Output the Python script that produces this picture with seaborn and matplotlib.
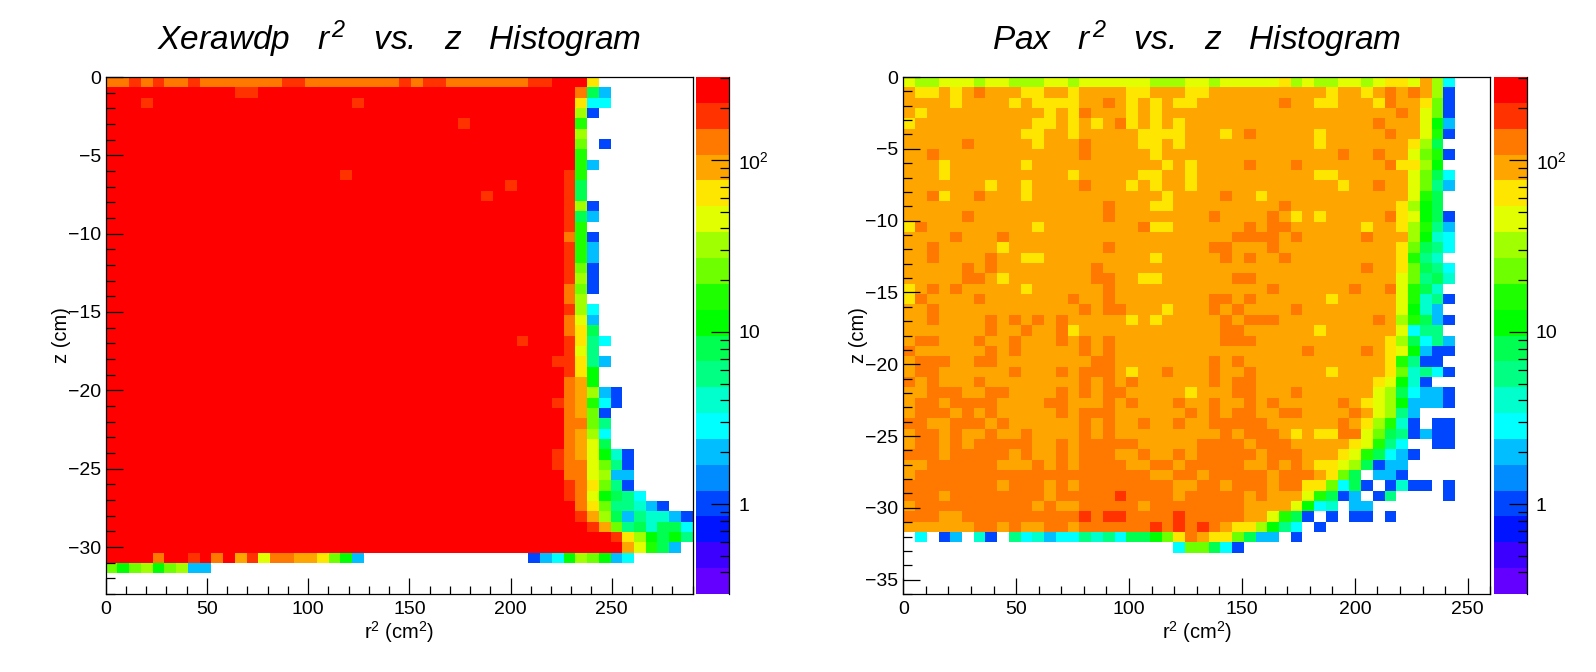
import numpy as np
import pandas as pd
import matplotlib
matplotlib.use("Agg")
import matplotlib.pyplot as plt
from matplotlib.colors import ListedColormap, LogNorm
from matplotlib.ticker import FixedLocator, FixedFormatter, NullFormatter
import seaborn as sns

# Colour level of each histogram bin (top row first).
# Each character is an index into PALETTE; '.' is an empty bin.
J = "jjjjjjjjjj"
E = ".........."
XERAWDP_LEVELS = [
    "hhihihhihh hhhhhiihhh hhhhhihiih hhhhhhiijj jf........",
    f"{J} jiijjjjjjj {J} {J} h95.......",
    f"jjjijjjjjj {J} jijjjjjjjj {J} f66.......",
    f"{J} {J} {J} {J} d3........",
    f"{J} {J} {J} ijjjjjjjjj b.........",
    f"{J} {J} {J} {J} d.........",
    f"{J} {J} {J} {J} c.3.......",
    f"{J} {J} {J} {J} b.........",
    f"{J} {J} {J} {J} b5........",
    f"{J} {J} ijjjjjjjjj jjjjjjjjji b.........",
    f"{J} {J} {J} jjjjijjjji 9.........",
    f"{J} {J} {J} jjijjjjjji 9.........",
    f"{J} {J} {J} jjjjjjjjji d3........",
    f"{J} {J} {J} jjjjjjjjji 95........",
    f"{J} {J} {J} jjjjjjjjji b.........",
    f"{J} {J} {J} jjjjjjjjjh b3........",
    f"{J} {J} {J} jjjjjjjjji b5........",
    f"{J} {J} {J} jjjjjjjjji b5........",
    f"{J} {J} {J} jjjjjjjjji c3........",
    f"{J} {J} {J} jjjjjjjjji d3........",
    f"{J} {J} {J} jjjjjjjjjh c3........",
    f"{J} {J} {J} jjjjjjjjjh d.........",
    f"{J} {J} {J} jjjjjjjjji d6........",
    f"{J} {J} {J} jjjjjjjjjh e5........",
    f"{J} {J} {J} jjjjjjjjjh f9........",
    f"{J} {J} {J} jjjjjijjji f86.......",
    f"{J} {J} {J} jjjjjjjjji e8........",
    f"{J} {J} {J} jjjjjjjjii f85.......",
    f"{J} {J} {J} jjjjjjjjji fa........",
    f"{J} {J} {J} jjjjjjjjjh ga........",
    f"{J} {J} {J} jjjjjjjjjh gd53......",
    f"{J} {J} {J} jjjjjjjjih gb63......",
    f"{J} {J} {J} jjjjjjjjjh gc3.......",
    f"{J} {J} {J} jjjjjjjjjh hc8.......",
    f"{J} {J} {J} jjjjjjjjjh gd6.......",
    f"{J} {J} {J} jjjjjjjjjh ge9.......",
    f"{J} {J} {J} jjjjjjjjih gea73.....",
    f"{J} {J} {J} jjjjjjjjih hec83.....",
    f"{J} {J} {J} jjjjjjjjjh hed55.....",
    f"{J} {J} {J} jjjjjjjjji hfc83.....",
    f"{J} {J} {J} jjjjjjjjji hea986....",
    f"{J} {J} {J} {J} hfc88753..",
    f"{J} {J} {J} {J} igd9587753",
    f"{J} {J} {J} {J} jigc897996",
    f"{J} {J} {J} {J} jjjifda9a8",
    f"{J} {J} {J} {J} jjjjgeb95.",
    "jjjjhjjijh jgiehhggfc a5........ ......356a dca56.....",
    f"cacdacd55. {E} {E} {E} {E}",
    f"{E} {E} {E} {E} {E}",
    f"{E} {E} {E} {E} {E}",
]
PAX_LEVELS = [
    "eddeeedeed ddeedeeeee edddeedeee eefdeddeed effegd6...",
    "gffgfghggg ffggfggggf fgggffgggg ggggggfggf ghghgd3...",
    "ggggfggggf gffffgghgf gfgffggggg gghggffggg fhggfc3...",
    "gfgggggggg ggfgfhgggf gfgggggggg gggggggggg gghgec3...",
    "fggggggggg gffgfgfghf gfgfgggggg gggggggggg hgggea5...",
    "gggggggggg ffggfggggg ffffgggfgh gggggfgggg ghggeb3...",
    "ggggghgggg gfggghgggg ffgfgggggg gggggfgggg gggfd9....",
    "gghggggggg ggggghgggg gfgggggggg ggggggghgg hggecb3...",
    "gggfgggggg fggggggggg ggfgfggggh ggghgggggg ghffda....",
    "gggfgggggg ggggfggggg ffggfggggg gggggffggg gggec96...",
    "gggggggfgg fgggghgggf gfggfggggg gggggggfgg hggec85...",
    "gghfgghggg fggggggggg ggfgggghgg fggggggggg gggeb9....",
    "gggggggggg ggggggghgg gffggggggg gghggggggg ggfda9....",
    "ggggghgggg ggggggghgg gggggghggg ghgfgfgggg ghfea93...",
    "fhgggggggg gfgggggggg hffggggggh ghhggggggf ggfdb85...",
    "gggghggghg gggggggggg gggggggghh hhghgggggh gggda76...",
    "gghgggggfg ggggggghgg gggggghhgg ghgggggggg ggfc986...",
    "gghgggghgg ffgggggggg gfggggghgh gghggggggg ggfb87....",
    "ggggghghgg gggggghggg gggggggggg gggggggggh ggfc986...",
    "ggggghhgfg gggggghhgg ffgggggghh gggggggggg ggec897...",
    "fghghggggg fggggggh gg gggggggggg ghgggggghg gheb97....",
    "fhgggghggg gggghgghgg gggggghhgh ggggggfggg ggeb783...",
    "gghggggggg ggggghghhg ggfggghghg ggghgggggg ggea75....",
    "gghgggghgh ghghgggggf gfggggghgh hhgggggggg hgdb953...",
    "ggggggghgg hgghfggggg ggggggghhg gggggfgggg gge688....",
    "ghhggghggh ggghghghgg ggggggghhh gggggggggg gfd9685...",
    "hggggggh gh ggggghghgg gggggggggg gggghggggh gfea533...",
    "ghhhgghhgg gggggghhgg gggggghghg gggggggggg gfb833....",
    "ghhggggggh ggghghhhgf gghggghggh ggggggfggg gfc7863...",
    "hghggghggg ggggghghgh gggggghghh gggggggggg fea73.....",
    "gghhhgghhg ggghghghhg ggggfggghh ggghgggggg ed96553...",
    "ghhghhhhgg gghhggghgh ggghgghggh ghgggggh gf eda5553...",
    "ghhhghghgg ggghghhhgg gggghghghh gghhgggghg ed85......",
    "hhgghhhghg ggggghghgg hgghgghhhh hggggggh gf db73.33...",
    "ghhghgghgg hgggghghgg ggggggghgh hhgfgffhhe c983533...",
    "ghhghghhhh hgghghhhhh ggggghhhhg hhhgggggfe b86..33...",
    "hhhghhhhhg hgghghhhgg hgghghhhhh ghhhgggfeb 9653......",
    "gghhhhhhgg ghghghhhhg ghhghhhhhg ghghgffed9 355.......",
    "ghhhhhhhhh hhhhhhhhhh hgghhghhhh hghhhgfc9. 553.......",
    "hhhhhhhhgh hhghghhhhh hhhgghhghh hghhffc693 .3733.3...",
    "hhhghhhhhh hhghhhhhih hhhghhhhhg hggge b935. 38....3...",
    "ghhhhhhhhh hghgghhhhh ghhhhhhhhg gggea67.55 ..........",
    "hhhgghhhhh hhhhhihiih hhhihhhhhg geb93.3.33 .3........",
    "gggggghhgh gghhghhhhh hihihihgff da86.3.... ..........",
    ".6.35.73.8 6756687869 9acfhgffc9 55.3...... ..........",
    f"{E} {E} ...6cc963. {E} {E}",
    f"{E} {E} {E} {E} {E}",
    f"{E} {E} {E} {E} {E}",
    f"{E} {E} {E} {E} {E}",
    f"{E} {E} {E} {E} {E}",
]

PALETTE = ["#6400ff", "#3c00ff", "#0014ff", "#0046ff", "#008cff",
           "#00beff", "#00ffff", "#00ffcd", "#00ff82", "#00ff50",
           "#00ff00", "#1eff00", "#6eff00", "#a0ff00", "#e1ff00",
           "#ffe600", "#ffa500", "#ff7800", "#ff3200", "#ff0000"]
LEVEL_CODES = "0123456789abcdefghij"
COUNT_MIN, COUNT_MAX = 0.3, 303.0

XERAWDP_TITLE = "Xerawdp   $r^{\\,2}$   vs.   z   Histogram"
PAX_TITLE = "Pax   $r^{\\,2}$   vs.   z   Histogram"
XLABEL = "r$^{2}$ (cm$^{2}$)"
YLABEL = "z (cm)"
XERAWDP_XMAX, XERAWDP_ZMIN = 290.0, -33.0
PAX_XMAX, PAX_ZMIN = 260.0, -36.0


def to_counts(rows):
    out = []
    for row in rows:
        row = row.replace(" ", "").ljust(50, ".")[:50]
        out.append([np.nan if ch == "." else
                    COUNT_MIN * (COUNT_MAX / COUNT_MIN) ** ((LEVEL_CODES.index(ch) + 0.5) / 20)
                    for ch in row])
    return pd.DataFrame(out)


sns.set_theme(style="white")
plt.rcParams["font.family"] = ["Liberation Sans", "DejaVu Sans"]
plt.rcParams["mathtext.fontset"] = "custom"
plt.rcParams["mathtext.rm"] = "Liberation Sans"
plt.rcParams["mathtext.it"] = "Liberation Sans:italic"
plt.rcParams["mathtext.bf"] = "Liberation Sans:bold"
plt.rcParams["mathtext.default"] = "regular"

W, H = 1596, 672
fig = plt.figure(figsize=(W / 100, H / 100), dpi=100)
cmap = ListedColormap(PALETTE)
cmap.set_bad("white")
LW = 0.9


def px_axes(x0, x1, y0, y1):
    return fig.add_axes([x0 / W, 1 - y1 / H, (x1 - x0) / W, (y1 - y0) / H])


def panel(rows, x0, xmax, zmin, title):
    ax = px_axes(x0, x0 + 587, 77, 594)
    cax = px_axes(x0 + 590.3, x0 + 623.6, 77, 594)
    sns.heatmap(to_counts(rows), ax=ax, cbar_ax=cax, cmap=cmap,
                norm=LogNorm(COUNT_MIN, COUNT_MAX),
                xticklabels=False, yticklabels=False)
    ax.set_axisbelow(False)
    cax.set_axisbelow(False)
    for s in ax.spines.values():
        s.set_visible(True)
        s.set_color("black")
        s.set_linewidth(LW)

    xsc = 50 / xmax
    zsc = 50 / -zmin
    xmaj = np.arange(0, xmax + 1, 50)
    xmin = np.array([v for v in np.arange(0, xmax + 1, 10) if v % 50])
    zmaj = np.arange(0, zmin - 1, -5)
    zmin_t = np.array([v for v in np.arange(0, zmin - 1, -1) if v % 5])
    ax.set_xticks(xmaj * xsc)
    ax.set_xticklabels([f"{int(v)}" for v in xmaj], rotation=0)
    ax.set_xticks(xmin * xsc, minor=True)
    ax.set_yticks(-zmaj * zsc)
    ax.set_yticklabels([f"\u2212{int(-v)}" if v else "0" for v in zmaj], rotation=0)
    ax.set_yticks(-zmin_t * zsc, minor=True)
    ax.tick_params(axis="x", which="major", direction="in", length=11.5, width=LW,
                   color="black", labelsize=14, labelcolor="black", pad=5,
                   bottom=True, top=False)
    ax.tick_params(axis="x", which="minor", direction="in", length=5.8, width=LW,
                   color="black", bottom=True, top=False)
    ax.tick_params(axis="y", which="major", direction="in", length=12.2, width=LW,
                   color="black", labelsize=14, labelcolor="black", pad=3.4,
                   left=True, right=False)
    ax.tick_params(axis="y", which="minor", direction="in", length=6.4, width=LW,
                   color="black", left=True, right=False)
    ax.set_xlabel(XLABEL, fontsize=14.5, color="black", va="center")
    ax.xaxis.set_label_coords(0.5, -0.0735)
    ax.set_ylabel(YLABEL, fontsize=14.5, color="black", va="center", rotation=90)
    ax.yaxis.set_label_coords(-44.5 / 587, 0.5)

    fig.text((x0 + 293.5) / W, 1 - 50.5 / H, title, fontsize=24, style="italic",
             color="black", ha="center", va="baseline")

    cbar = ax.collections[0].colorbar
    cbar.outline.set_visible(False)
    cax.spines["right"].set_visible(True)
    cax.spines["right"].set_color("black")
    cax.spines["right"].set_linewidth(LW)
    cax.yaxis.set_major_locator(FixedLocator([1, 10, 100]))
    cax.yaxis.set_major_formatter(FixedFormatter(["1", "10", "$10^{2}$"]))
    cax.yaxis.set_minor_locator(FixedLocator(
        [0.4, 0.5, 0.6, 0.7, 0.8, 0.9, 2, 3, 4, 5, 6, 7, 8, 9,
         20, 30, 40, 50, 60, 70, 80, 90, 200, 300]))
    cax.yaxis.set_minor_formatter(NullFormatter())
    cax.yaxis.set_ticks_position("right")
    cax.tick_params(axis="y", which="major", direction="in", length=13, width=LW,
                    color="black", labelsize=14, labelcolor="black", pad=6.5)
    cax.tick_params(axis="y", which="minor", direction="in", length=6.5, width=LW,
                    color="black")


panel(XERAWDP_LEVELS, 105.7, XERAWDP_XMAX, XERAWDP_ZMIN, XERAWDP_TITLE)
panel(PAX_LEVELS, 903.3, PAX_XMAX, PAX_ZMIN, PAX_TITLE)

fig.savefig("out.png", dpi=100, facecolor="white")
